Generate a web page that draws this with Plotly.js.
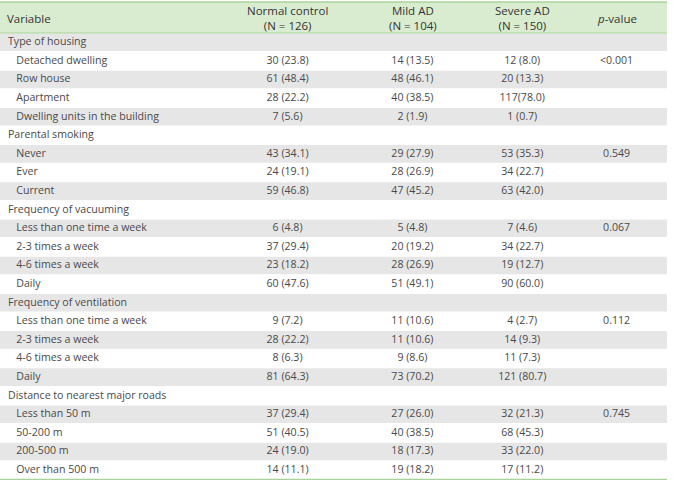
<!DOCTYPE html>
<html>
<head>
<meta charset="utf-8">
<script src="https://cdn.plot.ly/plotly-3.0.1.min.js"></script>
<style>html,body{margin:0;padding:0;background:#fff;}#chart{width:673px;height:489px;}</style>
</head>
<body>
<div id="chart"></div>
<script>
// ---- data ----
var headers = ["Variable", "Normal control<br>(N = 126)", "Mild AD<br>(N = 104)", "Severe AD<br>(N = 150)", "<i>p</i>-value"];

var variables = [
  "Type of housing", "Detached dwelling", "Row house", "Apartment", "Dwelling units in the building",
  "Parental smoking", "Never", "Ever", "Current",
  "Frequency of vacuuming", "Less than one time a week", "2-3 times a week", "4-6 times a week", "Daily",
  "Frequency of ventilation", "Less than one time a week", "2-3 times a week", "4-6 times a week", "Daily",
  "Distance to nearest major roads", "Less than 50 m", "50-200 m", "200-500 m", "Over than 500 m"
];
var isGroup = [1,0,0,0,0, 1,0,0,0, 1,0,0,0,0, 1,0,0,0,0, 1,0,0,0,0];

var normalControl = [
  "", "30 (23.8)", "61 (48.4)", "28 (22.2)", "7 (5.6)",
  "", "43 (34.1)", "24 (19.1)", "59 (46.8)",
  "", "6 (4.8)", "37 (29.4)", "23 (18.2)", "60 (47.6)",
  "", "9 (7.2)", "28 (22.2)", "8 (6.3)", "81 (64.3)",
  "", "37 (29.4)", "51 (40.5)", "24 (19.0)", "14 (11.1)"
];
var mildAD = [
  "", "14 (13.5)", "48 (46.1)", "40 (38.5)", "2 (1.9)",
  "", "29 (27.9)", "28 (26.9)", "47 (45.2)",
  "", "5 (4.8)", "20 (19.2)", "28 (26.9)", "51 (49.1)",
  "", "11 (10.6)", "11 (10.6)", "9 (8.6)", "73 (70.2)",
  "", "27 (26.0)", "40 (38.5)", "18 (17.3)", "19 (18.2)"
];
var severeAD = [
  "", "12 (8.0)", "20 (13.3)", "117(78.0)", "1 (0.7)",
  "", "53 (35.3)", "34 (22.7)", "63 (42.0)",
  "", "7 (4.6)", "34 (22.7)", "19 (12.7)", "90 (60.0)",
  "", "4 (2.7)", "14 (9.3)", "11 (7.3)", "121 (80.7)",
  "", "32 (21.3)", "68 (45.3)", "33 (22.0)", "17 (11.2)"
];
// p-values; the "<" comparator is kept apart so the table renders it as plain text
var pValues = [
  "", "0.001", "", "", "",
  "", "0.549", "", "",
  "", "0.067", "", "", "",
  "", "0.112", "", "", "",
  "", "0.745", "", "", ""
];
var pComparator = [
  "", "<", "", "", "",
  "", "", "", "",
  "", "", "", "", "",
  "", "", "", "", "",
  "", "", "", "", ""
];

// ---- build ----
var W = 673, H = 489, TOP = 2, HEADER_H = 31, ROW_H = 18.6;
var plotH = H - TOP;
var colWidths = [228, 120, 130, 90, 99];
var x0 = 0, x1 = 0.991;
var totalW = colWidths.reduce(function (a, b) { return a + b; }, 0);
var TEXT_SHIFT = 3.7; // px: lift table text so it sits centred in its band

function py(px) { return 1 - (px - TOP) / plotH; } // page pixel -> paper y

var labels = variables.map(function (v, i) {
  return isGroup[i] ? v : "\u00a0\u00a0\u00a0" + v;
});
var emptyCol = variables.map(function () { return ""; });

var FONT = "'Open Sans', 'Noto Sans', sans-serif";
var headerTopPx = TOP, headerBotPx = TOP + HEADER_H;
var tableBotPx = headerBotPx + variables.length * ROW_H;

var trace = {
  type: "table",
  domain: {x: [x0, x1], y: [0, py(headerBotPx - 1 - TEXT_SHIFT)]},
  columnwidth: colWidths,
  header: {
    values: [[""], [""], [""], [""], [""]],
    height: 1,
    font: {size: 1, color: "rgba(0,0,0,0)"},
    fill: {color: "rgba(0,0,0,0)"},
    line: {width: 0, color: "rgba(0,0,0,0)"}
  },
  cells: {
    values: [labels, normalControl, mildAD, severeAD, pValues],
    prefix: [emptyCol, emptyCol, emptyCol, emptyCol, pComparator],
    align: ["left", "center", "center", "center", "center"],
    height: ROW_H,
    fill: {color: "rgba(0,0,0,0)"},
    line: {color: "rgba(0,0,0,0)", width: 0},
    font: {family: FONT, size: 10.6, color: "#4a4a4a"}
  }
};

// header annotations at column positions
var annotations = [];
var acc = 0;
colWidths.forEach(function (w, i) {
  var left = x0 + (x1 - x0) * acc / totalW;
  var center = x0 + (x1 - x0) * (acc + w / 2) / totalW;
  annotations.push({
    xref: "paper", yref: "paper",
    x: i === 0 ? left + 5 / W : center,
    xanchor: i === 0 ? "left" : "center",
    y: py((headerTopPx + headerBotPx) / 2 + 0.5), yanchor: "middle",
    text: headers[i], showarrow: false, align: "center",
    font: {family: FONT, size: 11.5, color: "#333333"}
  });
  acc += w;
});

var shapes = [
  {type: "rect", xref: "paper", yref: "paper", x0: x0, x1: x1, y0: py(headerBotPx), y1: py(headerTopPx),
   fillcolor: "#d9ecd0", line: {width: 0}, layer: "below"}
];
// zebra bands, one per table row, aligned to the same row height as the table
variables.forEach(function (v, i) {
  if (i % 2 === 0) {
    shapes.push({type: "rect", xref: "paper", yref: "paper", x0: x0, x1: x1,
      y0: py(headerBotPx + (i + 1) * ROW_H - 0.5), y1: py(headerBotPx + i * ROW_H + 0.5),
      fillcolor: "#e6e6e6", line: {width: 0}, layer: "below"});
  }
});
shapes.push(
  {type: "line", xref: "paper", yref: "paper", x0: x0, x1: x1, y0: py(headerTopPx), y1: py(headerTopPx),
   line: {color: "#a9d39a", width: 1.5}},
  {type: "line", xref: "paper", yref: "paper", x0: x0, x1: x1, y0: py(headerBotPx), y1: py(headerBotPx),
   line: {color: "#a9d39a", width: 1}},
  {type: "line", xref: "paper", yref: "paper", x0: x0, x1: x1, y0: py(tableBotPx), y1: py(tableBotPx),
   line: {color: "#a9d39a", width: 1.2}}
);

var layout = {
  width: W, height: H,
  margin: {l: 0, r: 0, t: TOP, b: 0},
  paper_bgcolor: "#ffffff",
  annotations: annotations,
  shapes: shapes
};

Plotly.newPlot("chart", [trace], layout, {displayModeBar: false, staticPlot: true});
</script>
</body>
</html>
